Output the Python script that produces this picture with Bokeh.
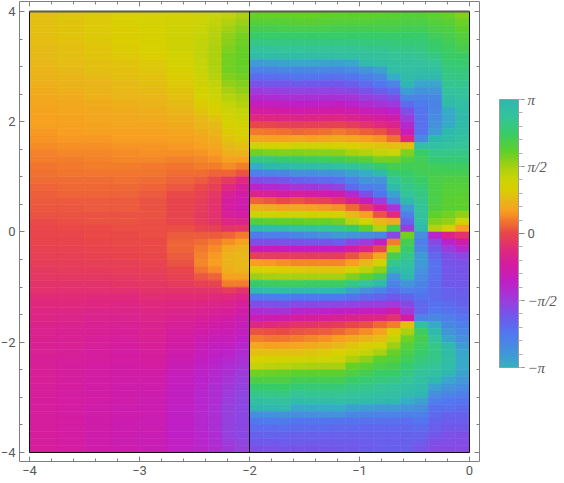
from bokeh.plotting import figure
from bokeh.models import (ColumnDataSource, LinearColorMapper, ColorBar, FixedTicker,
                          LinearAxis)
from bokeh.embed import file_html
from bokeh.resources import INLINE
from bokeh.transform import transform
import numpy as np

# phase in degrees; each list is one column, top row to bottom row
left_col_0 = [50,50,49,49,48,47,46,45,44,42,40,38,36,34,33,32,31,29,27,24,21,19,17,15,13,11,9,7,6,4,2,0,0,-2,-3,-5,-6,-9,-11,-13,-15,-19,-22,-25,-27,-30,-32,-33,-35,-36,-37,-37,-38,-38,-39,-39,-40,-40,-40,-40,-40,-40,-40,-40]
left_col_1 = [54,53,53,52,51,50,49,48,46,44,42,40,38,36,35,33,32,30,28,25,22,20,18,16,14,12,10,8,6,5,3,1,0,-1,-3,-4,-6,-8,-10,-13,-16,-20,-23,-26,-29,-32,-34,-35,-36,-38,-39,-40,-41,-42,-42,-43,-43,-44,-44,-44,-44,-44,-44,-44]
left_col_2 = [57,56,56,55,54,53,52,50,49,47,44,42,40,38,36,34,33,31,29,26,23,21,19,16,14,12,10,8,7,5,4,2,1,0,-1,-3,-5,-7,-10,-13,-17,-21,-24,-28,-31,-34,-36,-37,-39,-40,-41,-43,-44,-45,-46,-47,-47,-48,-48,-48,-48,-49,-49,-49]
left_col_3 = [60,60,59,59,58,57,55,53,51,49,47,45,43,40,38,36,34,32,30,27,24,22,20,17,15,12,10,8,7,5,4,3,2,1,0,-2,-4,-6,-9,-12,-17,-21,-25,-29,-32,-35,-37,-39,-41,-43,-44,-46,-47,-48,-49,-50,-50,-51,-51,-52,-52,-52,-52,-52]
left_col_4 = [62,62,62,61,61,60,58,56,54,51,49,47,44,42,39,37,35,33,30,27,25,22,18,16,13,10,7,5,4,4,3,3,3,2,1,0,-2,-4,-8,-11,-13,-18,-23,-26,-29,-31,-33,-35,-37,-39,-41,-44,-46,-48,-50,-51,-52,-53,-53,-54,-54,-55,-55,-55]
left_col_5 = [66,67,68,68,68,68,66,64,61,58,55,53,50,46,43,40,37,34,31,28,25,21,17,14,10,6,2,-1,-2,-2,-1,3,8,10,10,8,5,0,-3,-8,-14,-19,-24,-28,-33,-37,-41,-44,-47,-50,-53,-56,-58,-60,-61,-62,-63,-64,-65,-65,-65,-65,-64,-64]
left_col_6 = [70,72,74,76,77,77,77,76,74,72,69,65,62,57,52,47,43,39,35,31,27,23,19,13,7,2,-3,-6,-8,-9,-8,-2,7,14,18,21,22,16,6,-3,-14,-20,-27,-32,-37,-42,-47,-51,-56,-58,-61,-64,-67,-69,-70,-71,-72,-72,-73,-73,-73,-72,-71,-70]
left_col_7 = [74,77,80,83,85,86,87,87,85,82,78,74,70,64,58,52,47,43,39,34,30,25,20,10,1,-5,-10,-13,-15,-15,-13,-5,8,18,24,28,30,24,10,-2,-14,-22,-29,-35,-40,-46,-51,-56,-61,-64,-67,-70,-73,-75,-77,-78,-78,-79,-79,-79,-79,-78,-77,-76]
left_col_8 = [78,85,91,95,99,102,104,105,105,100,95,90,84,76,70,65,61,57,53,47,40,32,24,11,-9,-22,-34,-40,-42,-38,-26,-13,10,26,38,42,42,40,31,20,-8,-22,-31,-38,-45,-50,-54,-59,-63,-69,-73,-77,-81,-84,-87,-89,-91,-92,-93,-94,-94,-94,-90,-87]
left_col_9 = [86,93,99,103,106,108,109,109,108,105,100,96,90,83,76,71,66,62,57,50,42,32,20,5,-22,-38,-46,-50,-50,-43,-28,-12,18,32,42,45,45,44,33,20,-14,-30,-39,-46,-52,-57,-61,-66,-71,-76,-80,-84,-88,-91,-94,-96,-97,-98,-99,-99,-99,-98,-95,-92]

right_col_0 = [108,115,125,135,148,160,172,-165,-145,-125,-108,-90,-75,-58,-42,-22,0,18,35,70,105,145,-178,-140,-105,-70,-30,10,40,75,118,175,-138,-105,-55,-5,30,62,92,135,175,-135,-105,-78,-55,-25,5,20,35,50,62,78,105,120,135,150,165,178,-155,-135,-125,-118,-112,-105]
right_col_1 = [108,115,125,135,147,158,170,-168,-147,-127,-110,-92,-77,-60,-44,-24,-2,16,33,66,102,142,178,-145,-108,-75,-35,6,37,72,115,170,-140,-105,-56,-6,28,60,90,132,172,-137,-106,-80,-53,-22,3,17,33,50,64,80,106,120,134,148,163,176,-157,-136,-126,-119,-112,-106]
right_col_2 = [108,115,124,134,146,157,168,-170,-149,-129,-111,-94,-79,-62,-46,-26,-4,15,32,63,100,138,175,-148,-110,-78,-40,2,33,68,112,167,-142,-106,-57,-6,26,58,88,130,170,-139,-107,-82,-50,-18,2,16,32,50,66,84,108,120,133,146,161,174,-159,-137,-127,-120,-113,-107]
right_col_3 = [108,114,124,134,146,157,170,-172,-150,-133,-113,-95,-81,-66,-48,-28,-6,12,35,72,100,135,172,-155,-120,-85,-38,5,35,70,110,162,-148,-107,-58,-7,22,55,90,130,175,-135,-103,-72,-42,-15,4,19,35,50,67,87,110,125,140,155,170,-175,-155,-133,-125,-118,-113,-108]
right_col_4 = [108,114,124,134,145,156,169,-172,-150,-131,-112,-96,-81,-65,-47,-27,-5,13,32,70,99,132,170,-156,-122,-87,-42,0,32,68,108,158,-152,-109,-58,-7,22,54,90,131,176,-135,-102,-70,-40,-13,6,22,37,52,68,88,110,125,140,154,168,-176,-156,-132,-125,-118,-113,-108]
right_col_5 = [109,115,124,134,145,156,168,-171,-149,-130,-112,-96,-80,-64,-47,-26,-4,15,34,68,98,130,168,-158,-125,-90,-45,-5,28,67,107,155,-157,-111,-58,-7,22,53,90,131,177,-135,-101,-68,-38,-11,8,25,40,55,70,89,111,125,140,153,167,-178,-157,-132,-125,-118,-113,-109]
right_col_6 = [110,116,125,134,145,155,166,-170,-148,-128,-112,-97,-80,-63,-47,-25,-3,18,37,65,97,125,165,-160,-130,-95,-50,-15,25,65,105,150,-165,-115,-58,-7,22,52,90,132,178,-135,-100,-65,-35,-8,12,30,45,60,72,90,112,125,140,152,166,-178,-158,-130,-124,-118,-113,-110]
right_col_7 = [110,116,125,134,145,155,165,-172,-152,-133,-117,-100,-84,-68,-50,-30,-8,14,34,60,90,120,158,-170,-145,-125,-75,-35,12,47,83,135,-160,-98,-40,4,30,65,100,145,-170,-130,-97,-62,-30,0,18,36,52,68,88,108,120,133,146,155,168,-170,-150,-130,-124,-118,-114,-111]
right_col_8 = [111,117,126,135,144,153,162,174,-160,-142,-125,-108,-92,-76,-56,-37,-15,9,30,56,85,115,150,-178,-160,-140,-105,-60,-8,30,65,110,-155,-90,-25,17,45,80,110,155,-155,-123,-94,-60,-27,3,24,42,58,78,97,113,125,138,150,158,170,-167,-147,-128,-122,-118,-115,-113]
right_col_9 = [112,118,126,135,143,152,160,168,-170,-150,-135,-117,-97,-82,-60,-42,-22,4,27,52,78,103,138,175,-160,-145,-132,-90,-38,5,45,85,-150,-65,0,35,65,95,128,175,-145,-118,-92,-60,-25,12,33,48,65,90,112,122,133,144,155,163,173,-165,-145,-128,-122,-118,-116,-115]
right_col_10 = [113,118,126,134,142,150,157,163,168,-178,-148,-125,-105,-88,-68,-50,-30,-10,15,48,73,105,125,140,155,172,-170,-150,-85,-20,38,125,-100,20,87,125,150,175,-160,-145,-130,-110,-90,-48,-15,20,58,76,93,108,116,125,135,147,158,166,175,-165,-145,-128,-122,-118,-117,-116]
right_col_11 = [115,120,127,134,141,148,155,161,166,172,180,-168,-148,-125,-105,-90,-75,-55,-25,50,100,118,128,135,142,150,156,175,-165,-140,-120,-90,105,125,135,148,158,168,178,-160,-140,-120,-100,-85,-45,50,88,105,117,123,130,138,146,156,165,172,-178,-160,-140,-127,-122,-119,-117,-116]
right_col_12 = [115,121,127,134,141,147,153,160,168,176,-172,-158,-145,-137,-132,-130,-128,-130,-150,165,135,128,125,128,133,140,147,152,157,160,165,175,-155,-140,-150,-165,-165,-160,-153,-147,-138,-130,-122,-122,-145,165,132,125,130,135,142,150,158,165,172,178,-170,-155,-143,-133,-125,-119,-113,-108]
right_col_13 = [112,117,123,128,134,138,147,156,165,175,-172,-160,-150,-145,-148,-153,-157,-165,178,165,150,140,130,125,123,123,122,122,120,110,100,85,-70,-100,-112,-122,-128,-130,-128,-125,-125,-125,-130,-135,-150,-175,175,160,150,148,150,155,165,178,-170,-155,-140,-130,-125,-120,-115,-110,-105,-102]
right_col_14 = [108,114,119,124,128,131,135,139,143,148,153,160,167,173,-177,-172,-176,178,170,160,150,140,132,125,120,117,115,114,113,105,95,65,-30,-68,-90,-105,-108,-110,-111,-112,-116,-120,-125,-130,-140,-150,-160,-170,175,170,168,172,178,-172,-160,-148,-135,-128,-120,-115,-110,-106,-103,-100]
right_col_15 = [100,106,111,116,121,126,133,138,142,147,151,157,162,167,172,175,172,168,162,155,148,140,132,125,120,116,113,112,110,95,70,30,-15,-48,-75,-98,-106,-108,-109,-110,-113,-116,-120,-125,-132,-140,-148,-155,-165,-172,-175,-175,-170,-162,-152,-142,-132,-125,-120,-115,-110,-105,-102,-100]

left_columns = [left_col_0, left_col_1, left_col_2, left_col_3, left_col_4, left_col_5, left_col_6, left_col_7, left_col_8, left_col_9]
right_columns = [right_col_0, right_col_1, right_col_2, right_col_3, right_col_4, right_col_5, right_col_6, right_col_7,
                 right_col_8, right_col_9, right_col_10, right_col_11, right_col_12, right_col_13, right_col_14, right_col_15]

x_edges = list(np.arange(-4, -2.5, 0.25)) + list(np.arange(-2.5, 0.0001, 0.125))
y_edges = list(np.arange(4, -4.0001, -0.125))

x_major = [-4, -3, -2, -1, 0]
y_major = [-4, -2, 0, 2, 4]
x_minor = [round(-4 + 0.2 * i, 1) for i in range(21)]
y_minor = [round(-4 + 0.5 * i, 1) for i in range(17)]
x_labels = {-4: "\u22124", -3: "\u22123", -2: "\u22122", -1: "\u22121", 0: "0"}
y_labels = {-4: "\u22124", -2: "\u22122", 0: "0", 2: "2", 4: "4"}

phase_anchor_deg = [-180, -157, -135, -112, -90, -67, -45, -22, 0, 15, 30, 45, 60, 75, 90, 110, 135, 157, 180]
phase_anchor_rgb = ["#33B0C4", "#4590DC", "#5178F0", "#7058EC", "#9C3CDC", "#BE20C8", "#D21CA4", "#E0287E", "#E8464A",
                    "#F07030", "#F89E20", "#E8B818", "#D8D000", "#C8D408", "#A8D010", "#60D028", "#38CC68", "#34C49A", "#2EB8B0"]
cb_pi_ticks = [-180, -90, 90, 180]
cb_zero_tick = [0]
cb_minor = [-180 + 18 * i for i in range(21)]
cb_labels = {-180: "\u2212\u03c0", -90: "\u2212\u03c0/2", 90: "\u03c0/2", 180: "\u03c0"}

rgb = np.array([[int(c[i:i + 2], 16) for i in (1, 3, 5)] for c in phase_anchor_rgb], float)
grid = np.linspace(-180, 180, 241)
palette = ["#%02x%02x%02x" % tuple(int(round(np.interp(g, phase_anchor_deg, rgb[:, k]))) for k in range(3)) for g in grid]
mapper = LinearColorMapper(palette=palette, low=-180, high=180)

left, right, top, bottom, phase = [], [], [], [], []
columns = left_columns + right_columns
for j, col in enumerate(columns):
    for i, v in enumerate(col):
        left.append(x_edges[j]); right.append(x_edges[j + 1])
        top.append(y_edges[i]); bottom.append(y_edges[i + 1])
        phase.append(v)
src = ColumnDataSource(dict(left=left, right=right, top=top, bottom=bottom, phase=phase))

p = figure(width=562, height=475, x_range=(-4.0909, 0.0909), y_range=(-4.163, 4.181),
           output_backend="svg", toolbar_location=None, x_axis_location=None, y_axis_location=None,
           min_border_left=19, min_border_right=82, min_border_top=1, min_border_bottom=14,
           margin=(0, 0, 0, -3))
p.frame_width = 460
p.frame_height = 460
p.grid.visible = False
p.outline_line_color = None
p.background_fill_color = "white"

p.quad(left="left", right="right", top="top", bottom="bottom", source=src,
       fill_color=transform("phase", mapper), line_color=transform("phase", mapper), line_width=0.6)

# thin frame of the plotted region and the line at Re z = -2
p.line([-4, 0, 0, -4, -4], [-4, -4, 4, 4, -4], line_color="#101010", line_width=1)
p.line([-4, 0], [4, 4], line_color="#5a5a50", line_width=2)
p.line([-2, -2], [-4, 4], line_color="#000000", line_width=1)

FRAME = "#808080"
TEXT = "#5a5a5a"
def style(ax, labels=None):
    ax.axis_line_color = FRAME
    ax.major_tick_line_color = FRAME
    ax.minor_tick_line_color = FRAME
    ax.major_tick_in = 5; ax.major_tick_out = 0
    ax.minor_tick_in = 3; ax.minor_tick_out = 0
    ax.major_label_standoff = 4
    ax.major_label_text_color = TEXT
    ax.major_label_text_font = "Roboto"
    ax.major_label_text_font_size = "13px"
    if labels:
        ax.major_label_overrides = labels

xt = FixedTicker(ticks=x_major, minor_ticks=x_minor)
yt = FixedTicker(ticks=y_major, minor_ticks=y_minor)
ax_b = LinearAxis(ticker=xt); style(ax_b, x_labels); p.add_layout(ax_b, "below")
ax_l = LinearAxis(ticker=yt); style(ax_l, y_labels); p.add_layout(ax_l, "left")
ax_t = LinearAxis(ticker=xt); style(ax_t, {t: "" for t in x_major}); ax_t.major_label_standoff = 0; p.add_layout(ax_t, "above")
ax_r = LinearAxis(ticker=yt); style(ax_r, {t: "" for t in y_major}); ax_r.major_label_standoff = 0; p.add_layout(ax_r, "right")

cb = ColorBar(color_mapper=mapper, location=(480, 94), width=19, height=268, padding=0, margin=0,
              ticker=FixedTicker(ticks=cb_pi_ticks, minor_ticks=cb_minor), major_label_overrides=cb_labels,
              major_tick_in=0, major_tick_out=6, minor_tick_in=0, minor_tick_out=4,
              major_tick_line_color=FRAME, minor_tick_line_color="#b0b0b0",
              bar_line_color="#9a9a9a", border_line_color=None, background_fill_color=None,
              label_standoff=3, major_label_text_color=TEXT, major_label_text_font="Liberation Serif",
              major_label_text_font_style="italic", major_label_text_font_size="15px")
p.add_layout(cb, "center")
# the zero tick has an upright label, so it gets its own transparent bar on the same scale
cb0 = ColorBar(color_mapper=mapper, location=(480, 94), width=19, height=268, padding=0, margin=0,
               scale_alpha=0, ticker=FixedTicker(ticks=cb_zero_tick), major_label_overrides={0: "0"},
               major_tick_in=0, major_tick_out=6, minor_tick_line_color=None,
               major_tick_line_color=FRAME, bar_line_color=None, border_line_color=None,
               background_fill_color=None, label_standoff=3, major_label_text_color=TEXT,
               major_label_text_font="Roboto", major_label_text_font_size="13px")
p.add_layout(cb0, "center")

open("out.html", "w").write(file_html(p, INLINE))
